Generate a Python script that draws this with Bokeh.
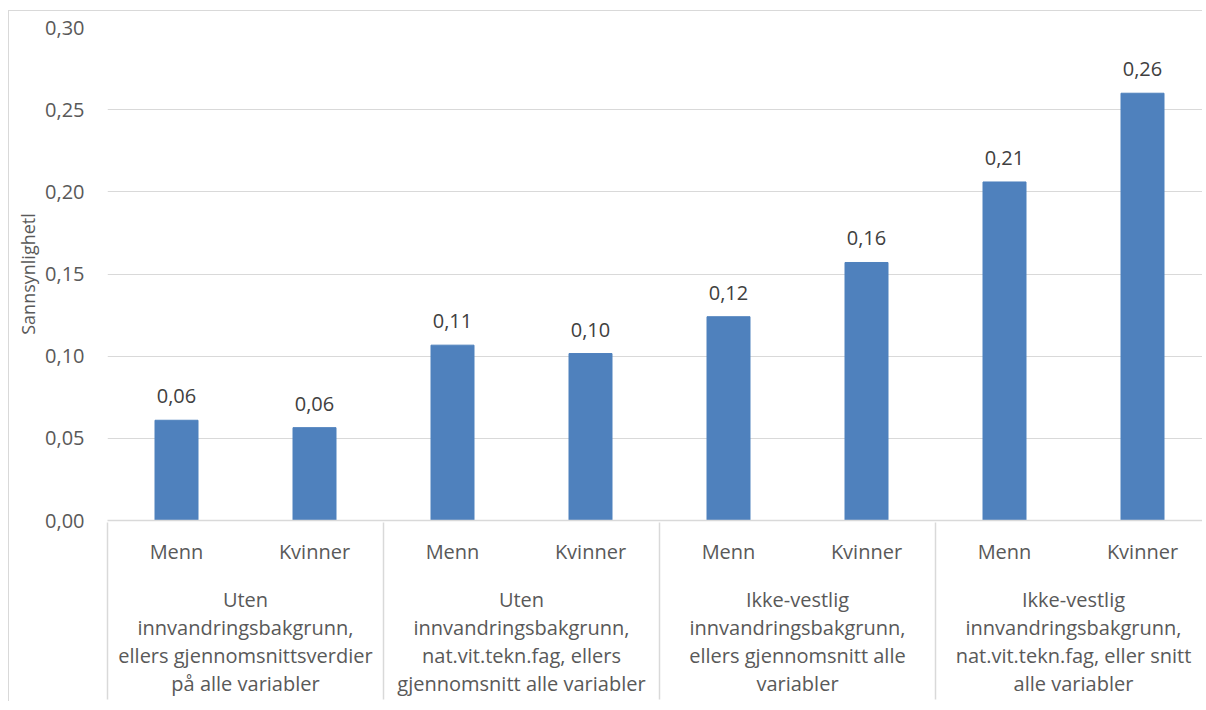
from bokeh.plotting import figure
from bokeh.models import (Range1d, LinearAxis, FixedTicker, CustomJSTickFormatter, ColumnDataSource)
from bokeh.core.properties import value
from bokeh.embed import file_html
from bokeh.resources import INLINE

# ---- data ----
groups = [
    "Uten\ninnvandringsbakgrunn,\nellers gjennomsnittsverdier\npå alle variabler",
    "Uten\ninnvandringsbakgrunn,\nnat.vit.tekn.fag, ellers\ngjennomsnitt alle variabler",
    "Ikke-vestlig\ninnvandringsbakgrunn,\nellers gjennomsnitt alle\nvariabler",
    "Ikke-vestlig\ninnvandringsbakgrunn,\nnat.vit.tekn.fag, eller snitt\nalle variabler",
]
sexes = ["Menn", "Kvinner"]
menn = [0.061, 0.1067, 0.124, 0.206]
kvinner = [0.0565, 0.1016, 0.157, 0.260]
y_ticks = [0.0, 0.05, 0.10, 0.15, 0.20, 0.25, 0.30]
y_label = "Sannsynlighetl"

FONT = "Open Sans"
TXT = "#595959"
GRID = "#d9d9d9"
BAR = "#4f81bd"
FS = "20px"

# positions: group i spans [i, i+1]; Menn at i+0.25, Kvinner at i+0.75
xs, vals, sub_labels = [], [], []
for i in range(len(groups)):
    for j, s in enumerate(sexes):
        xs.append(i + 0.25 + 0.5 * j)
        v = menn[i] if j == 0 else kvinner[i]
        vals.append(v)
        sub_labels.append(s)
txt = [f"{v:.2f}".replace(".", ",") for v in vals]
src = ColumnDataSource(dict(x=xs, top=vals, label=txt))

W, H = 1194, 691
BL = 98
group_px = 276.0
frame_w = W - BL
p = figure(width=W, height=H, output_backend="svg", toolbar_location=None,
           x_range=Range1d(0, frame_w / group_px), y_range=Range1d(0, 0.30),
           min_border_left=BL, min_border_right=0, min_border_top=16, min_border_bottom=182,
           x_axis_type=None, outline_line_color=None,
           styles={"margin-left": "8px", "margin-top": "10px",
                   "border-left": "1px solid #d9d9d9", "border-top": "1px solid #d9d9d9"})
p.background_fill_color = "white"
p.border_fill_color = "white"

p.vbar(x="x", top="top", width=43 / group_px, source=src, fill_color=BAR, line_color=BAR)
p.text(x="x", y="top", text="label", source=src, text_align="center", text_baseline="bottom",
       y_offset=-17, text_font=value(FONT), text_font_size=FS, text_color="#404040")

# y axis
ya = p.yaxis[0]
ya.ticker = FixedTicker(ticks=y_ticks)
ya.formatter = CustomJSTickFormatter(code="return tick.toFixed(2).replace('.', ',');")
ya.axis_line_color = None
ya.major_tick_line_color = None
ya.minor_tick_line_color = None
ya.major_tick_out = 0
ya.major_tick_in = 0
ya.minor_tick_out = 0
ya.minor_tick_in = 0
ya.major_label_standoff = 23
ya.major_label_text_font = FONT
ya.major_label_text_font_size = FS
ya.major_label_text_color = TXT
ya.axis_label = y_label
ya.axis_label_text_font = FONT
ya.axis_label_text_font_size = "18px"
ya.axis_label_text_font_style = "normal"
ya.axis_label_text_color = TXT
ya.axis_label_standoff = 2

p.ygrid.grid_line_color = GRID
p.xgrid.grid_line_color = None

# x axis 1: Menn / Kvinner
ax1 = LinearAxis(ticker=FixedTicker(ticks=xs, minor_ticks=[]))
ax1.major_label_overrides = {x: s for x, s in zip(xs, sub_labels)}
ax1.axis_line_color = GRID
ax1.axis_line_width = 1.5
ax1.major_tick_line_color = None
ax1.minor_tick_line_color = None
ax1.major_tick_out = 0
ax1.major_tick_in = 0
ax1.minor_tick_out = 0
ax1.minor_tick_in = 0
ax1.major_label_standoff = 17
ax1.major_label_text_font = FONT
ax1.major_label_text_font_size = FS
ax1.major_label_text_color = TXT
p.add_layout(ax1, "below")

# x axis 2: group labels
gx = [i + 0.5 for i in range(len(groups))]
ax2 = LinearAxis(ticker=FixedTicker(ticks=gx, minor_ticks=[]))
ax2.major_label_overrides = {x: g for x, g in zip(gx, groups)}
ax2.axis_line_color = None
ax2.major_tick_line_color = None
ax2.minor_tick_line_color = None
ax2.major_tick_out = 0
ax2.major_tick_in = 0
ax2.minor_tick_out = 0
ax2.minor_tick_in = 0
ax2.major_label_standoff = 18
ax2.major_label_text_font = FONT
ax2.major_label_text_font_size = FS
ax2.major_label_text_color = TXT
ax2.major_label_text_line_height = 1.04
p.add_layout(ax2, "below")

# x axis 3: group separators (ticks pointing up to the frame)
ax3 = LinearAxis(ticker=FixedTicker(ticks=[], minor_ticks=list(range(len(groups) + 1))))
ax3.axis_line_color = None
ax3.major_tick_line_color = None
ax3.major_label_text_font_size = "0px"
ax3.major_label_standoff = 0
ax3.axis_label_standoff = 0
ax3.major_tick_out = 0
ax3.major_tick_in = 0
ax3.minor_tick_out = 0
ax3.minor_tick_in = 177
ax3.minor_tick_line_color = GRID
ax3.minor_tick_line_width = 1.5
p.add_layout(ax3, "below")

open("out.html", "w").write(file_html(p, INLINE))
